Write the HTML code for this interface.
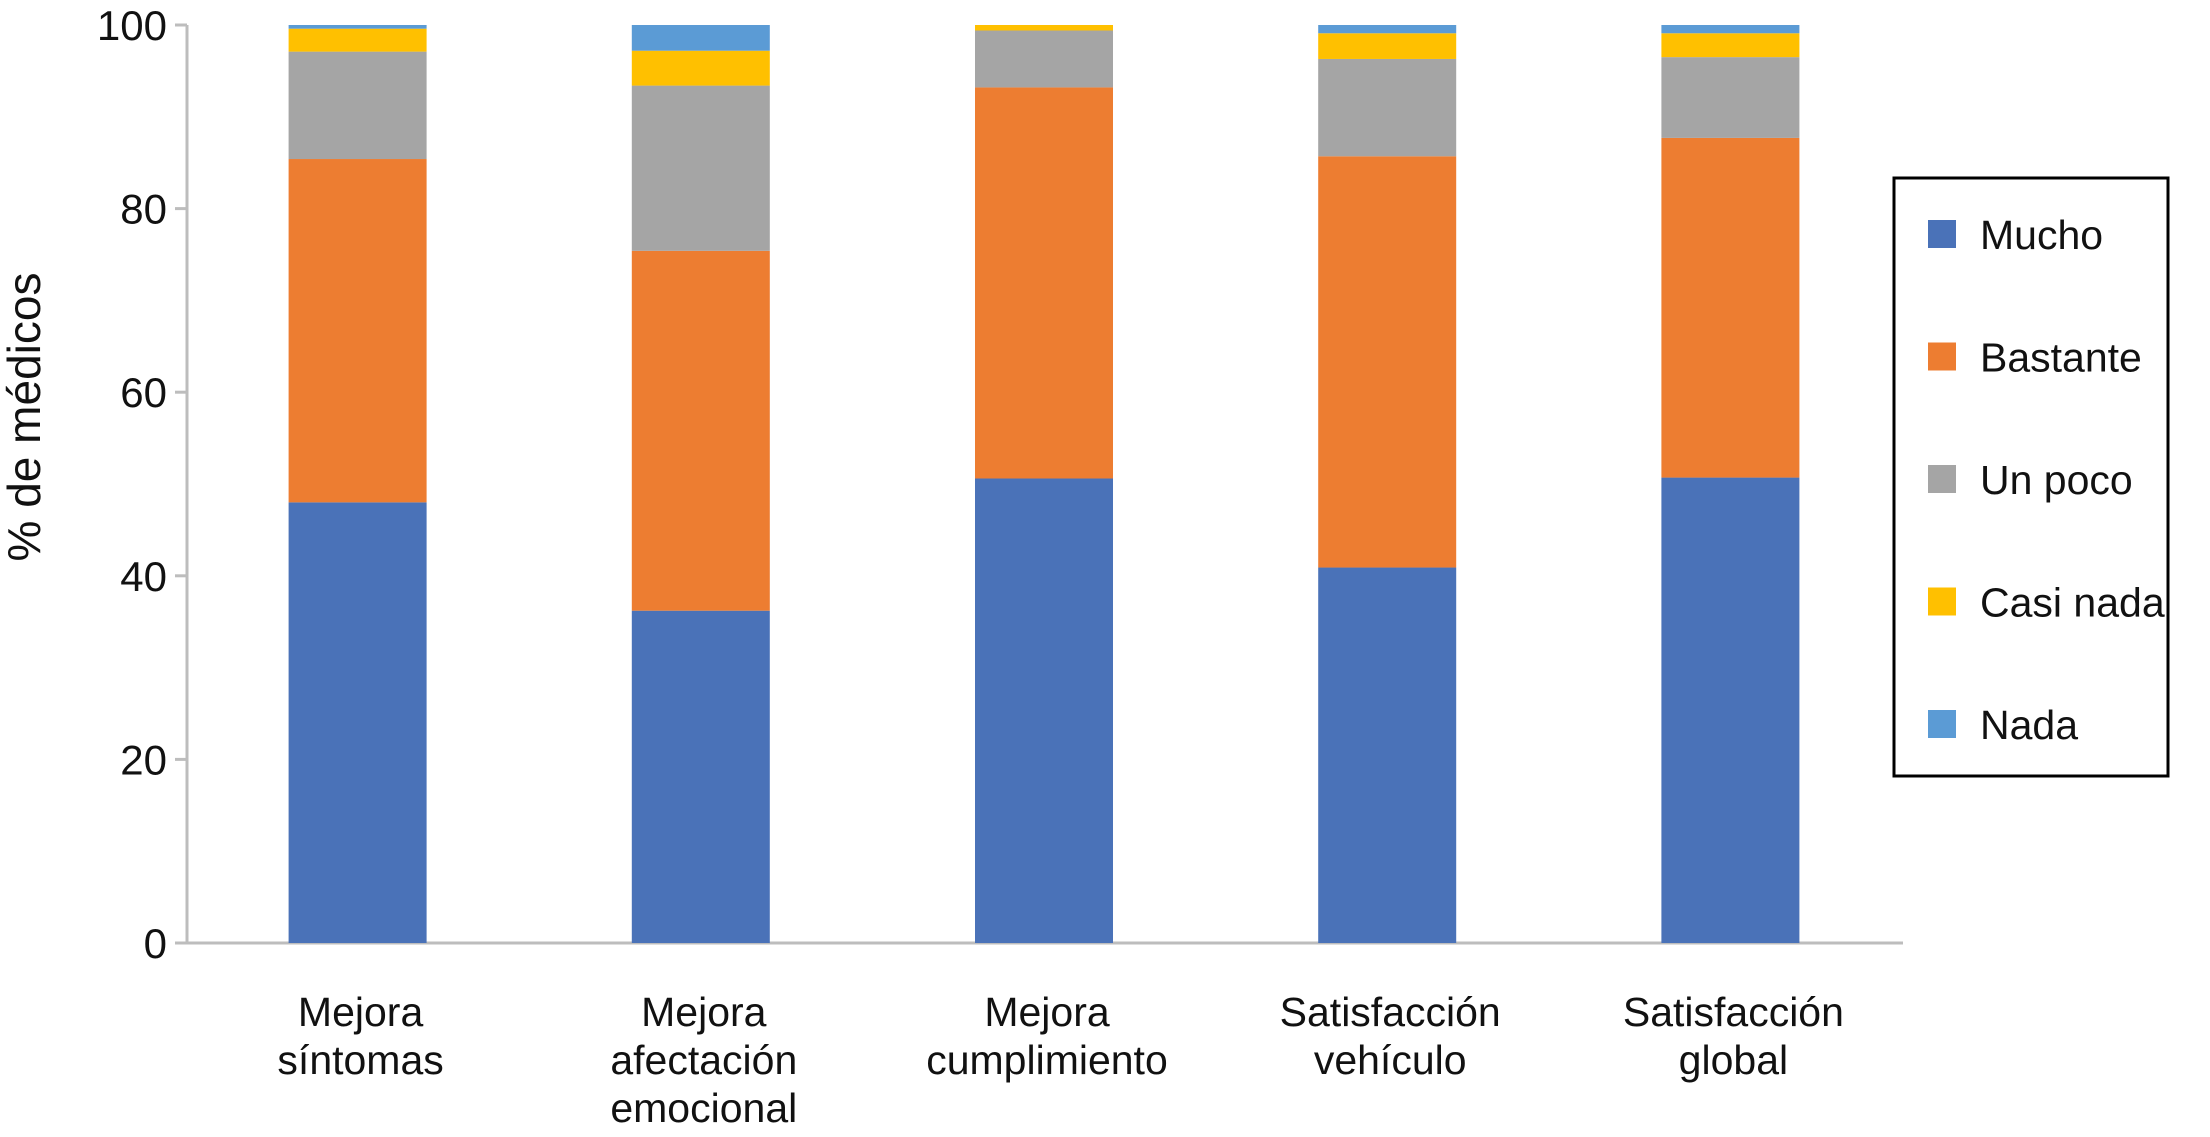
<!DOCTYPE html>
<html><head><meta charset="utf-8"><style>
body{margin:0;background:#fff;}
svg text{font-family:"Liberation Sans Narrow","Liberation Sans",sans-serif;fill:#111;}
</style></head><body>
<svg id="chart" width="2210" height="1132" xmlns="http://www.w3.org/2000/svg"></svg>
<script>
const categories=[["Mejora","síntomas"],["Mejora","afectación","emocional"],["Mejora","cumplimiento"],["Satisfacción","vehículo"],["Satisfacción","global"]];
const seriesNames=["Mucho","Bastante","Un poco","Casi nada","Nada"];
const colors=["#4a72b8","#ed7d31","#a5a5a5","#ffc000","#5b9bd5"];
const mucho=[48,36.2,50.6,40.9,50.7];
const bastante=[37.4,39.2,42.6,44.8,37];
const unPoco=[11.7,18,6.2,10.6,8.8];
const casiNada=[2.5,3.8,0.6,2.8,2.6];
const nada=[0.4,2.8,0,0.9,0.9];
const yTicks=[0,20,40,60,80,100];
const series=[mucho,bastante,unPoco,casiNada,nada];
const svg=document.getElementById('chart');const NS='http://www.w3.org/2000/svg';
const y0=943,y100=25,xL=187,xR=1903,barW=138,bandW=(xR-xL)/5;
const y=v=>y0-(v/100)*(y0-y100);
function mk(t,a,p){const e=document.createElementNS(NS,t);for(const k in a)e.setAttribute(k,a[k]);(p||svg).appendChild(e);return e;}
const ax=mk('line',{x1:xL,y1:y0,x2:xR,y2:y0,stroke:'#bdbdbd','stroke-width':3});


const ay=mk('line',{x1:xL,y1:y0,x2:xL,y2:y100,stroke:'#bdbdbd','stroke-width':3});


yTicks.forEach(v=>{
 const tk=mk('line',{x1:xL-12,y1:y(v),x2:xL,y2:y(v),stroke:'#bdbdbd','stroke-width':3});
 
 
 const t=mk('text',{x:xL-20,y:y(v)+15,'text-anchor':'end','font-size':42});t.textContent=v;
 
 
});
const yt=mk('text',{x:0,y:0,'text-anchor':'middle','font-size':46,transform:'translate(40,417) rotate(-90)'});yt.textContent='% de médicos';


categories.forEach((c,i)=>{
 const cx=xL+bandW*(i+0.5)-1;
 let acc=0;
 series.forEach((s,k)=>{
  const v=s[i];if(v<=0)return;
  const r=mk('rect',{x:cx-barW/2,y:y(acc+v),width:barW,height:y(acc)-y(acc+v),fill:colors[k]});
  
  
  acc+=v;
 });
 c.forEach((ln,j)=>{
  const t=mk('text',{x:cx+3,y:1026+j*48,'text-anchor':'middle','font-size':41});t.textContent=ln;
  
  
 });
});
const lg=mk('rect',{x:1894,y:178,width:274,height:598,fill:'#fff',stroke:'#000','stroke-width':3});


seriesNames.forEach((n,k)=>{
 const ly=234+k*122.5;
 const sw=mk('rect',{x:1928,y:ly-14,width:28,height:28,fill:colors[k]});
 
 
 const t=mk('text',{x:1980,y:ly+15,'font-size':41});t.textContent=n;
 
 
});
</script>
</body></html>
